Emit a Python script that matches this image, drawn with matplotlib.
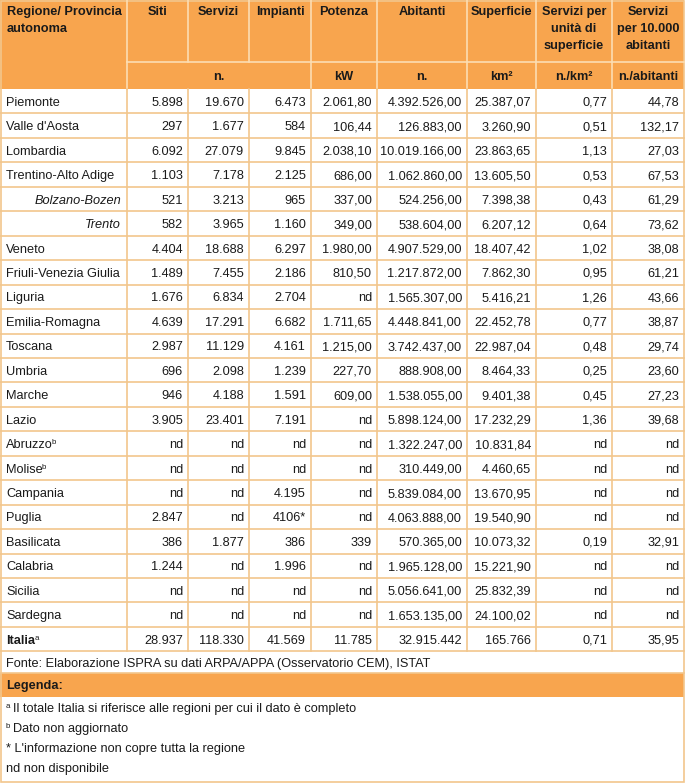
import matplotlib.pyplot as plt
from matplotlib.patches import Rectangle

plt.rcParams['font.family'] = ['Liberation Sans', 'DejaVu Sans']

# ── Data ──
regioni = ["Piemonte", "Valle d'Aosta", "Lombardia", "Trentino-Alto Adige",
           "Bolzano-Bozen", "Trento", "Veneto", "Friuli-Venezia Giulia", "Liguria",
           "Emilia-Romagna", "Toscana", "Umbria", "Marche", "Lazio",
           "Abruzzo", "Molise", "Campania", "Puglia",
           "Basilicata", "Calabria", "Sicilia", "Sardegna", "Italia"]
apici = ["", "", "", "", "", "", "", "", "", "", "", "", "", "",
         "b", "b", "", "", "", "", "", "", "a"]
siti = ["5.898", "297", "6.092", "1.103", "521", "582", "4.404", "1.489", "1.676",
        "4.639", "2.987", "696", "946", "3.905", "nd", "nd", "nd", "2.847",
        "386", "1.244", "nd", "nd", "28.937"]
servizi = ["19.670", "1.677", "27.079", "7.178", "3.213", "3.965", "18.688", "7.455",
           "6.834", "17.291", "11.129", "2.098", "4.188", "23.401", "nd", "nd", "nd",
           "nd", "1.877", "nd", "nd", "nd", "118.330"]
impianti = ["6.473", "584", "9.845", "2.125", "965", "1.160", "6.297", "2.186", "2.704",
            "6.682", "4.161", "1.239", "1.591", "7.191", "nd", "nd", "4.195",
            "4106*", "386", "1.996", "nd", "nd", "41.569"]
potenza = ["2.061,80", "106,44", "2.038,10", "686,00", "337,00", "349,00", "1.980,00",
           "810,50", "nd", "1.711,65", "1.215,00", "227,70", "609,00", "nd", "nd", "nd",
           "nd", "nd", "339", "nd", "nd", "nd", "11.785"]
abitanti = ["4.392.526,00", "126.883,00", "10.019.166,00", "1.062.860,00", "524.256,00",
            "538.604,00", "4.907.529,00", "1.217.872,00", "1.565.307,00", "4.448.841,00",
            "3.742.437,00", "888.908,00", "1.538.055,00", "5.898.124,00", "1.322.247,00",
            "310.449,00", "5.839.084,00", "4.063.888,00", "570.365,00", "1.965.128,00",
            "5.056.641,00", "1.653.135,00", "32.915.442"]
superficie = ["25.387,07", "3.260,90", "23.863,65", "13.605,50", "7.398,38", "6.207,12",
              "18.407,42", "7.862,30", "5.416,21", "22.452,78", "22.987,04", "8.464,33",
              "9.401,38", "17.232,29", "10.831,84", "4.460,65", "13.670,95", "19.540,90",
              "10.073,32", "15.221,90", "25.832,39", "24.100,02", "165.766"]
serv_km2 = ["0,77", "0,51", "1,13", "0,53", "0,43", "0,64", "1,02", "0,95", "1,26",
            "0,77", "0,48", "0,25", "0,45", "1,36", "nd", "nd", "nd", "nd", "0,19",
            "nd", "nd", "nd", "0,71"]
serv_ab = ["44,78", "132,17", "27,03", "67,53", "61,29", "73,62", "38,08", "61,21",
           "43,66", "38,87", "29,74", "23,60", "27,23", "39,68", "nd", "nd", "nd", "nd",
           "32,91", "nd", "nd", "nd", "35,95"]

intestazioni = ["Regione/ Provincia\nautonoma", "Siti", "Servizi", "Impianti", "Potenza",
                "Abitanti", "Superficie", "Servizi per\nunità di\nsuperficie",
                "Servizi\nper 10.000\nabitanti"]
unita = ["kW", "n.", "km²", "n./km²", "n./abitanti"]
fonte = "Fonte: Elaborazione ISPRA su dati ARPA/APPA (Osservatorio CEM), ISTAT"
note_apici = ["a", "b", "", ""]
note = ["Il totale Italia si riferisce alle regioni per cui il dato è completo",
        "Dato non aggiornato",
        "* L'informazione non copre tutta la regione",
        "nd non disponibile"]

colonne = [siti, servizi, impianti, potenza, abitanti, superficie, serv_km2, serv_ab]

# ── Layout (pixels) ──
W, H = 685, 783
xs = [0, 127, 188, 249, 311, 377, 467, 536, 612, 684]
h1, h2 = 62, 89
rh = 24.45
orange = "#F8A54E"
cream = "#FCDDB2"
grid = "#F2C68C"
txt = "#1a1a1a"
fs = 9.2
base = 4.6  # baseline offset from row centre

fig = plt.figure(figsize=(W / 100, H / 100), dpi=100)
ax = fig.add_axes([0, 0, 1, 1])
ax.set_xlim(0, W)
ax.set_ylim(H, 0)
ax.axis("off")
renderer = fig.canvas.get_renderer()


def cell(x, yc, s, ha="left", **kw):
    return ax.text(x, yc + base, s, ha=ha, va="baseline", fontsize=fs, color=txt, **kw)


def sup(t, yc, s):
    # small raised letter right after text t
    bb = t.get_window_extent(renderer)
    x_end = ax.transData.inverted().transform((bb.x1, 0))[0]
    ax.text(x_end - 0.8, yc + base - 4, s, ha="left", va="baseline",
            fontsize=fs * 0.62, color=txt)


# header
ax.add_patch(Rectangle((0, 0), xs[-1], h2, color=orange, lw=0))
for x in xs[1:-1]:
    ax.plot([x, x], [0, h1], color=cream, lw=1.2)
for x in [127, 311, 377, 467, 536, 612]:
    ax.plot([x, x], [h1, h2], color=cream, lw=1.2)
ax.plot([127, xs[-1]], [h1, h1], color=cream, lw=1.2)

ax.text(7, 6, intestazioni[0], ha="left", va="top", fontsize=fs, fontweight="bold",
        color=txt, linespacing=1.55)
for i, t in enumerate(intestazioni[1:]):
    xc = (xs[i + 1] + xs[i + 2]) / 2
    ax.text(xc, 6, t, ha="center", va="top", fontsize=fs, fontweight="bold",
            color=txt, linespacing=1.55, multialignment="center")

ym = (h1 + h2) / 2
cell((127 + 311) / 2, ym, "n.", ha="center", fontweight="bold")
for i, u in enumerate(unita):
    cell((xs[i + 4] + xs[i + 5]) / 2, ym, u, ha="center", fontweight="bold")

# body
y_end = h2 + rh * len(regioni)
for r, nome in enumerate(regioni):
    yc = h2 + rh * (r + 0.5)
    if nome in ("Bolzano-Bozen", "Trento"):
        t = cell(xs[1] - 6, yc, nome, ha="right", style="italic")
    elif nome == "Italia":
        t = cell(6, yc, nome, fontweight="bold")
    else:
        t = cell(6, yc, nome)
    if apici[r]:
        sup(t, yc, apici[r])
    for c, col in enumerate(colonne):
        cell(xs[c + 2] - 5, yc, col[r], ha="right")
    ax.plot([0, xs[-1]], [h2 + rh * (r + 1)] * 2, color=grid, lw=1.2)

for x in xs[1:-1]:
    ax.plot([x, x], [h2, y_end], color=grid, lw=1.2)

# fonte + legenda
y_fonte = y_end + 21.5
cell(6, (y_end + y_fonte) / 2, fonte)
ax.plot([0, xs[-1]], [y_fonte, y_fonte], color=grid, lw=1.2)
y_leg = y_fonte + 24
ax.add_patch(Rectangle((0, y_fonte), xs[-1], 24, color=orange, lw=0))
cell(6, (y_fonte + y_leg) / 2, "Legenda:", fontweight="bold")
for k, n in enumerate(note):
    yc = y_leg + 11 + k * 19.7
    if note_apici[k]:
        ax.text(6, yc + base - 4, note_apici[k], ha="left", va="baseline",
                fontsize=fs * 0.62, color=txt)
        cell(13, yc, n)
    else:
        cell(6, yc, n)

ax.add_patch(Rectangle((0.5, 0.5), xs[-1] - 0.5, H - 2, fill=False, ec=grid, lw=1.2))

fig.savefig("out.png", dpi=100)
